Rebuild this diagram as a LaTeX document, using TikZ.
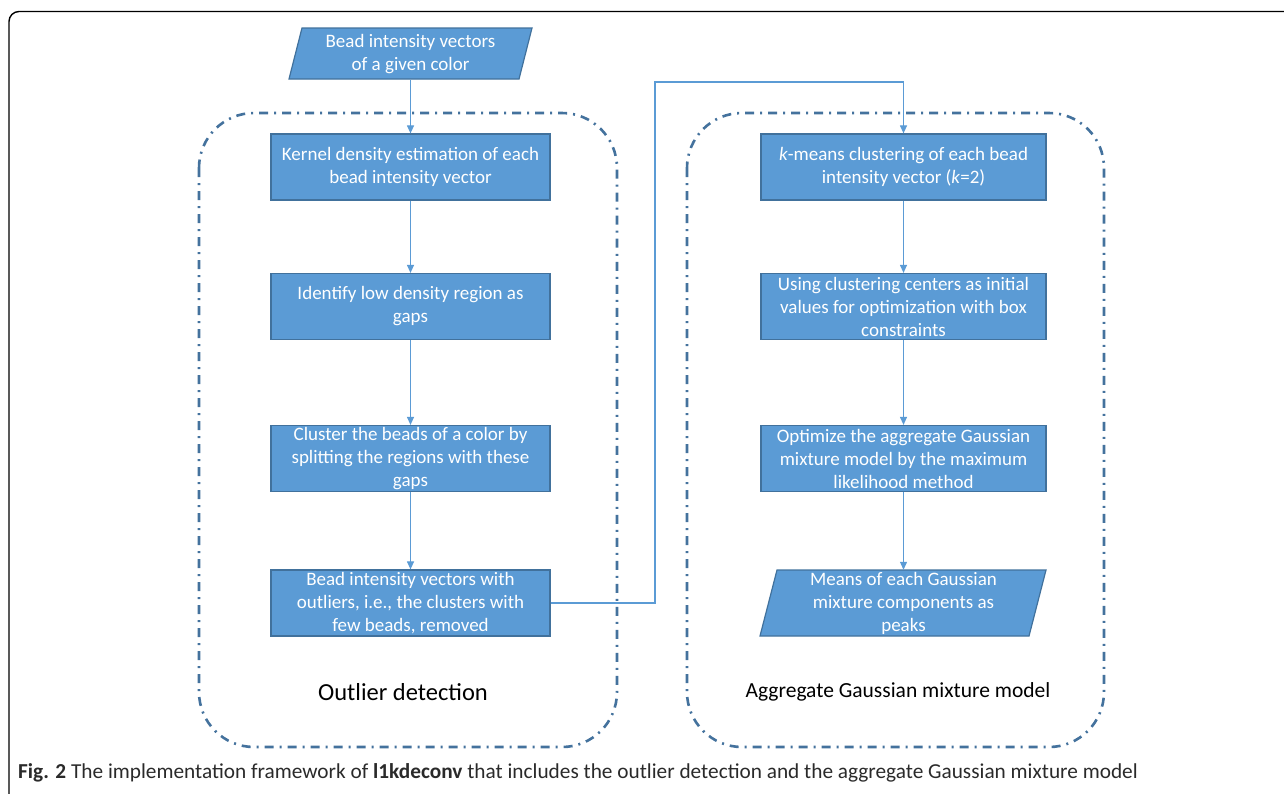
\documentclass[tikz,border=0pt]{standalone}
\usepackage{fontspec}
\setmainfont{Carlito}
\usetikzlibrary{arrows.meta}
\definecolor{boxfill}{HTML}{5B9BD5}
\definecolor{boxline}{HTML}{41719C}
\definecolor{framecol}{HTML}{44729D}
\definecolor{captxt}{HTML}{2A2A2A}
\tikzset{
  box/.style={draw=boxline, line width=1.2pt, fill=boxfill, text=white,
    minimum height=66pt, align=center, inner sep=0pt,
    font=\fontsize{19}{23}\selectfont},
  lbox/.style={box, minimum width=279pt},
  rbox/.style={box, minimum width=285pt},
  ptext/.style={text=white, align=center, inner sep=0pt, font=\fontsize{19}{23}\selectfont},
  arr/.style={draw=boxfill, line width=1.1pt, -{Triangle[width=7pt,length=8pt]}},
  group/.style={draw=framecol, line width=2.6pt, rounded corners=55pt,
    dash pattern=on 9pt off 6pt on 2pt off 6pt},
  grouplabel/.style={text=black}
}
\begin{document}
\begin{tikzpicture}[x=1pt,y=-1pt]
\useasboundingbox (0,0) rectangle (1284,793);
\begin{scope}
\clip (0,0) rectangle (1284,793);
\draw[line width=1.4pt, rounded corners=10pt] (9,810) -- (9,11.5) -- (1300,11.5);
\end{scope}
% group frames
\draw[group] (199,113) rectangle (617,747);
\draw[group] (687,113) rectangle (1104,747);
% input parallelogram
\fill[boxfill] (289,79) -- (302,28) -- (532,28) -- (519,79) -- cycle;
\draw[boxline, line width=1.2pt] (289,79) -- (302,28) -- (532,28) -- (519,79) -- cycle;
\node[ptext, minimum height=51pt] (in) at (410.5,54.5) {Bead intensity vectors\\of a given color};
% left column
\node[lbox] (a1) at (410.5,167) {Kernel density estimation of each\\bead intensity vector};
\node[lbox] (a2) at (410.5,306.5) {Identify low density region as\\gaps};
\node[lbox] (a3) at (410.5,458.5) {Cluster the beads of a color by\\splitting the regions with these\\gaps};
\node[lbox] (a4) at (410.5,603) {Bead intensity vectors with\\outliers, i.e., the clusters with\\few beads, removed};
% right column
\node[rbox] (b1) at (903.5,167) {\textit{k}-means clustering of each bead\\intensity vector (\textit{k}=2)};
\node[rbox] (b2) at (903.5,306.5) {Using clustering centers as initial\\values for optimization with box\\constraints};
\node[rbox] (b3) at (903.5,458.5) {Optimize the aggregate Gaussian\\mixture model by the maximum\\likelihood method};
\fill[boxfill] (760,636) -- (777,570) -- (1046,570) -- (1029,636) -- cycle;
\draw[boxline, line width=1.2pt] (760,636) -- (777,570) -- (1046,570) -- (1029,636) -- cycle;
\node[ptext, minimum height=66pt] (b4) at (903.5,603) {Means of each Gaussian\\mixture components as\\peaks};
% connectors
\draw[arr] (in.south) -- (a1.north);
\draw[arr] (a1.south) -- (a2.north);
\draw[arr] (a2.south) -- (a3.north);
\draw[arr] (a3.south) -- (a4.north);
\coordinate (turn) at (655,82);
\draw[arr] (a4.east) -| (turn) -| (b1.north);
\draw[arr] (b1.south) -- (b2.north);
\draw[arr] (b2.south) -- (b3.north);
\draw[arr] (b3.south) -- (b4.north);
% group labels
\node[grouplabel, font=\fontsize{24.5}{28}\selectfont] (lab1) at (403,692) {Outlier detection};
\node[grouplabel, font=\fontsize{21.5}{25}\selectfont] (lab2) at (898,692) {Aggregate Gaussian mixture model};
% caption
\node[anchor=west, text=captxt, font=\fontsize{21.3}{24}\selectfont, inner sep=0pt] (cap) at (18,773)
  {\textbf{Fig. 2} The implementation framework of \textbf{l1kdeconv} that includes the outlier detection and the aggregate Gaussian mixture model};
\end{tikzpicture}
\end{document}
